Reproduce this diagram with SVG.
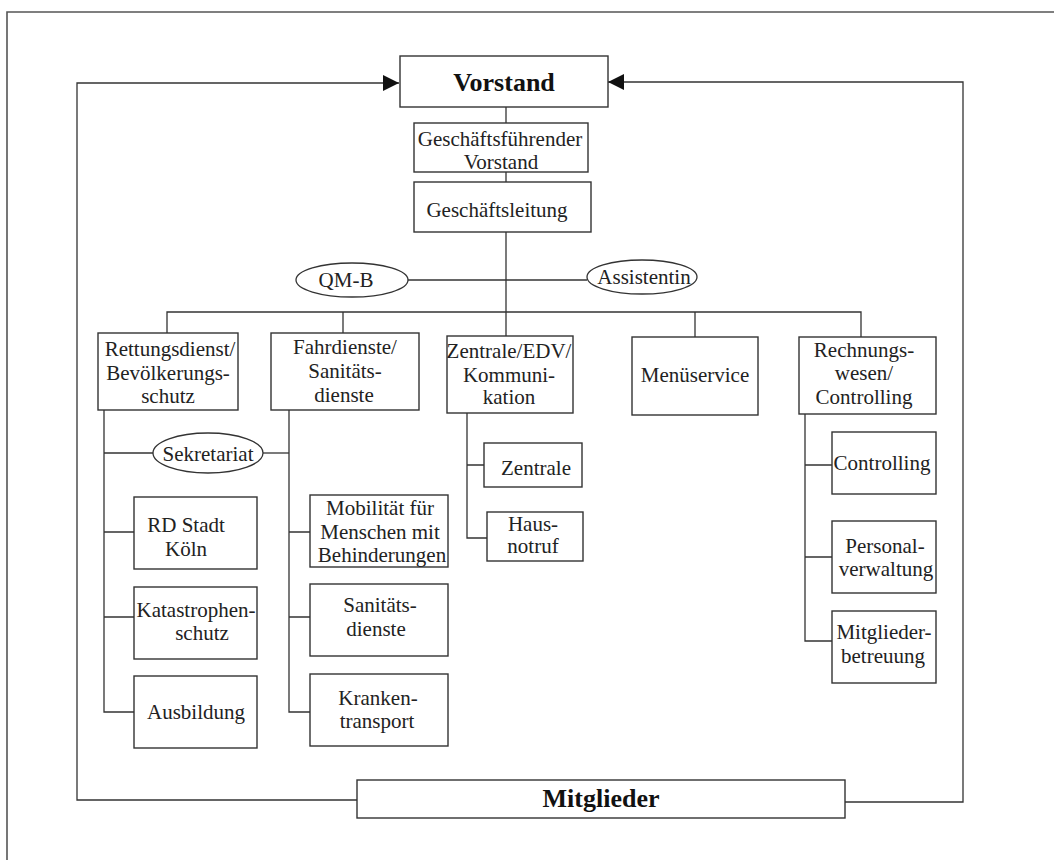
<svg xmlns="http://www.w3.org/2000/svg" width="1054" height="860" viewBox="0 0 1054 860">
<style>
.box{fill:#fff;stroke:#333;stroke-width:1.4}
.ell{fill:#fff;stroke:#333;stroke-width:1.3}
.ln{fill:none;stroke:#333;stroke-width:1.3}
.frame{fill:none;stroke:#555;stroke-width:1.6}
text{font-family:"Liberation Serif","Times New Roman",serif;font-size:21px;fill:#222;text-anchor:middle}
.big{font-size:26px;font-weight:bold;fill:#111}
</style>
<defs>
<marker id="arr" markerUnits="userSpaceOnUse" markerWidth="17" markerHeight="16" refX="16" refY="8" orient="auto">
<path d="M0,0 L16,8 L0,16 Z" fill="#111"/>
</marker>
</defs>
<rect width="1054" height="860" fill="#fff"/>
<path class="frame" d="M7,860 V12 H1054"/>
<g id="connectors">
<path class="ln" d="M357,800 H77 V83 H399" marker-end="url(#arr)"/>
<path class="ln" d="M845,802 H963 V82 H608" marker-end="url(#arr)"/>
<path class="ln" d="M506,107 V123"/>
<path class="ln" d="M506,172 V182"/>
<path class="ln" d="M506,232 V336"/>
<path class="ln" d="M408,280 H587"/>
<path class="ln" d="M167,333 V312 H861 V337"/>
<path class="ln" d="M343,312 V333"/>
<path class="ln" d="M695,312 V337"/>
<path class="ln" d="M104,410 V712 H134 M104,532 H134 M104,617 H134 M104,453 H153"/>
<path class="ln" d="M263,453 H289"/>
<path class="ln" d="M289,410 V712 H310 M289,532 H310 M289,617 H310"/>
<path class="ln" d="M467,413 V538 H487 M467,465 H484"/>
<path class="ln" d="M805,414 V641 H832 M805,465 H832 M805,557 H832"/>
</g>
<g id="vorstand"><rect class="box" x="400" y="56" width="208" height="51"/><text class="big" x="504" y="91">Vorstand</text></g>
<g id="gf-vorstand"><rect class="box" x="414" y="123" width="174" height="49"/><text x="500" y="146">Geschäftsführender</text><text x="501" y="169">Vorstand</text></g>
<g id="geschaeftsleitung"><rect class="box" x="414" y="182" width="177" height="50"/><text x="497" y="217">Geschäftsleitung</text></g>
<g id="qmb"><ellipse class="ell" cx="352" cy="280" rx="56" ry="17"/><text x="346" y="287">QM-B</text></g>
<g id="assistentin"><ellipse class="ell" cx="642" cy="277" rx="55" ry="17"/><text x="644" y="284">Assistentin</text></g>
<g id="rettungsdienst"><rect class="box" x="98" y="333" width="140" height="77"/><text x="170" y="356">Rettungsdienst/</text><text x="168" y="380">Bevölkerungs-</text><text x="168" y="403">schutz</text></g>
<g id="fahrdienste"><rect class="box" x="271" y="333" width="148" height="77"/><text x="345" y="354">Fahrdienste/</text><text x="345" y="378">Sanitäts-</text><text x="344" y="402">dienste</text></g>
<g id="zentrale-edv"><rect class="box" x="447" y="336" width="126" height="77"/><text x="509" y="358">Zentrale/EDV/</text><text x="509" y="382">Kommuni-</text><text x="509" y="404">kation</text></g>
<g id="menueservice"><rect class="box" x="632" y="337" width="126" height="78"/><text x="695" y="382">Menüservice</text></g>
<g id="rechnungswesen"><rect class="box" x="799" y="337" width="137" height="77"/><text x="864" y="357">Rechnungs-</text><text x="864" y="380">wesen/</text><text x="864" y="404">Controlling</text></g>
<g id="sekretariat"><ellipse class="ell" cx="208" cy="453" rx="55" ry="20"/><text x="208" y="461">Sekretariat</text></g>
<g id="rd-stadt-koeln"><rect class="box" x="134" y="497" width="123" height="72"/><text x="186" y="532">RD Stadt</text><text x="186" y="556">Köln</text></g>
<g id="katastrophenschutz"><rect class="box" x="134" y="587" width="123" height="72"/><text x="196" y="617">Katastrophen-</text><text x="202" y="640">schutz</text></g>
<g id="ausbildung"><rect class="box" x="134" y="676" width="123" height="72"/><text x="196" y="719">Ausbildung</text></g>
<g id="mobilitaet"><rect class="box" x="310" y="495" width="138" height="72"/><text x="380" y="515">Mobilität für</text><text x="380" y="539">Menschen mit</text><text x="382" y="562">Behinderungen</text></g>
<g id="sanitaetsdienste"><rect class="box" x="310" y="584" width="138" height="72"/><text x="380" y="612">Sanitäts-</text><text x="376" y="636">dienste</text></g>
<g id="krankentransport"><rect class="box" x="310" y="674" width="138" height="72"/><text x="378" y="705">Kranken-</text><text x="377" y="728">transport</text></g>
<g id="zentrale"><rect class="box" x="484" y="443" width="98" height="44"/><text x="536" y="475">Zentrale</text></g>
<g id="hausnotruf"><rect class="box" x="487" y="512" width="96" height="49"/><text x="533" y="531">Haus-</text><text x="533" y="553">notruf</text></g>
<g id="controlling"><rect class="box" x="832" y="432" width="104" height="62"/><text x="882" y="470">Controlling</text></g>
<g id="personalverwaltung"><rect class="box" x="832" y="521" width="104" height="72"/><text x="885" y="553">Personal-</text><text x="886" y="576">verwaltung</text></g>
<g id="mitgliederbetreuung"><rect class="box" x="832" y="611" width="104" height="72"/><text x="884" y="639">Mitglieder-</text><text x="883" y="663">betreuung</text></g>
<g id="mitglieder"><rect class="box" x="357" y="780" width="488" height="38"/><text class="big" x="601" y="807">Mitglieder</text></g>
</svg>
